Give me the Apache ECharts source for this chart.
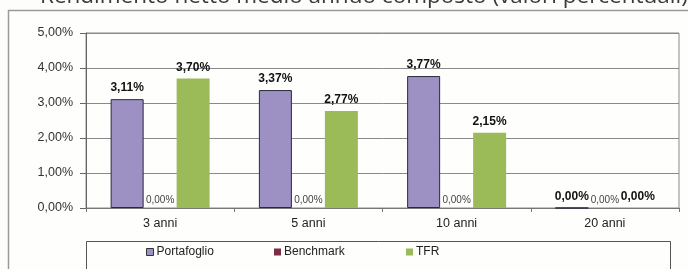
<!DOCTYPE html>
<html>
<head>
<meta charset="utf-8">
<script src="https://cdn.jsdelivr.net/npm/echarts@6/dist/echarts.min.js"></script>
<style>
  html, body { margin: 0; padding: 0; background: #fdfdfb; }
  #chart { width: 688px; height: 269px; }
</style>
</head>
<body>
<div id="chart"></div>
<script>
// dati
const categories = ['3 anni', '5 anni', '10 anni', '20 anni']
const portafoglio = [3.11, 3.37, 3.77, 0]
const benchmark = [0, 0, 0, 0]
const tfr = [3.70, 2.77, 2.15, 0]
const yTicks = [0, 1, 2, 3, 4, 5]

const fmt = v => v.toFixed(2).replace('.', ',') + '%'
const font = 'Liberation Sans, Arial, sans-serif'

const chart = echarts.init(document.getElementById('chart'))

function legendItem(name, left, border) {
  return {
    data: [name],
    left: left,
    top: 246,
    icon: 'rect',
    itemWidth: 7,
    itemHeight: 7,
    itemGap: 0,
    padding: 0,
    selectedMode: false,
    itemStyle: border ? { borderColor: border, borderWidth: 1 } : {},
    textStyle: { fontFamily: font, fontSize: 12, color: '#222', padding: [0, 0, 0, -2] }
  }
}

const option = {
  backgroundColor: '#fdfdfb',
  animation: false,
  graphic: [
    {
      type: 'rect',
      shape: { x: 8.5, y: 10.5, width: 700, height: 300 },
      style: { fill: '#fefefd', stroke: '#9a9a9a', lineWidth: 1.5 },
      z: -10
    },
    {
      type: 'rect',
      shape: { x: 86.5, y: 241.5, width: 584, height: 60 },
      style: { fill: 'none', stroke: '#555', lineWidth: 1 }
    },
    {
      type: 'text',
      style: {
        x: 40, y: 8,
        text: 'Rendimento netto medio annuo composto (valori percentuali)',
        fontFamily: 'Open Sans, sans-serif',
        fontSize: 22.5,
        fill: '#3a3a3a',
        verticalAlign: 'bottom'
      }
    }
  ],
  legend: [
    legendItem('Portafoglio', 146, '#333'),
    legendItem('Benchmark', 274),
    legendItem('TFR', 406)
  ],
  grid: { left: 86, right: 9, top: 33, bottom: 61, show: true, borderColor: '#8a8a8a', borderWidth: 1, backgroundColor: 'transparent' },
  xAxis: {
    type: 'category',
    data: categories,
    axisLine: { lineStyle: { color: '#777' } },
    axisTick: { show: true, length: 4, lineStyle: { color: '#777' } },
    axisLabel: { fontFamily: font, fontSize: 12.5, color: '#222', margin: 9 }
  },
  yAxis: {
    type: 'value',
    min: yTicks[0],
    max: yTicks[yTicks.length - 1],
    interval: 1,
    axisLine: { show: true, lineStyle: { color: '#666' } },
    axisTick: { show: true, length: 6, lineStyle: { color: '#666' } },
    axisLabel: { fontFamily: font, fontSize: 12.5, color: '#333', margin: 13, formatter: v => fmt(v) },
    splitLine: { lineStyle: { color: '#8a8a8a', width: 1 } }
  },
  series: [
    {
      name: 'Portafoglio',
      type: 'bar',
      data: portafoglio,
      barWidth: 33,
      barGap: '0%',
      itemStyle: { color: '#9d90c3', borderColor: '#2a2a3a', borderWidth: 1 },
      label: {
        show: true, position: 'top', distance: 5,
        fontFamily: font, fontSize: 12, fontWeight: 'bold', color: '#111',
        formatter: p => fmt(p.value)
      }
    },
    {
      name: 'Benchmark',
      type: 'bar',
      data: benchmark,
      barWidth: 33,
      barGap: '0%',
      itemStyle: { color: '#7b2c48' },
      label: {
        show: true, position: 'top', distance: 3,
        fontFamily: font, fontSize: 10, color: '#444',
        formatter: p => fmt(p.value)
      }
    },
    {
      name: 'TFR',
      type: 'bar',
      data: tfr,
      barWidth: 33,
      barGap: '0%',
      itemStyle: { color: '#9bbb59' },
      label: {
        show: true, position: 'top', distance: 5,
        fontFamily: font, fontSize: 12, fontWeight: 'bold', color: '#111',
        formatter: p => fmt(p.value)
      }
    }
  ]
}

chart.setOption(option)
</script>
</body>
</html>
